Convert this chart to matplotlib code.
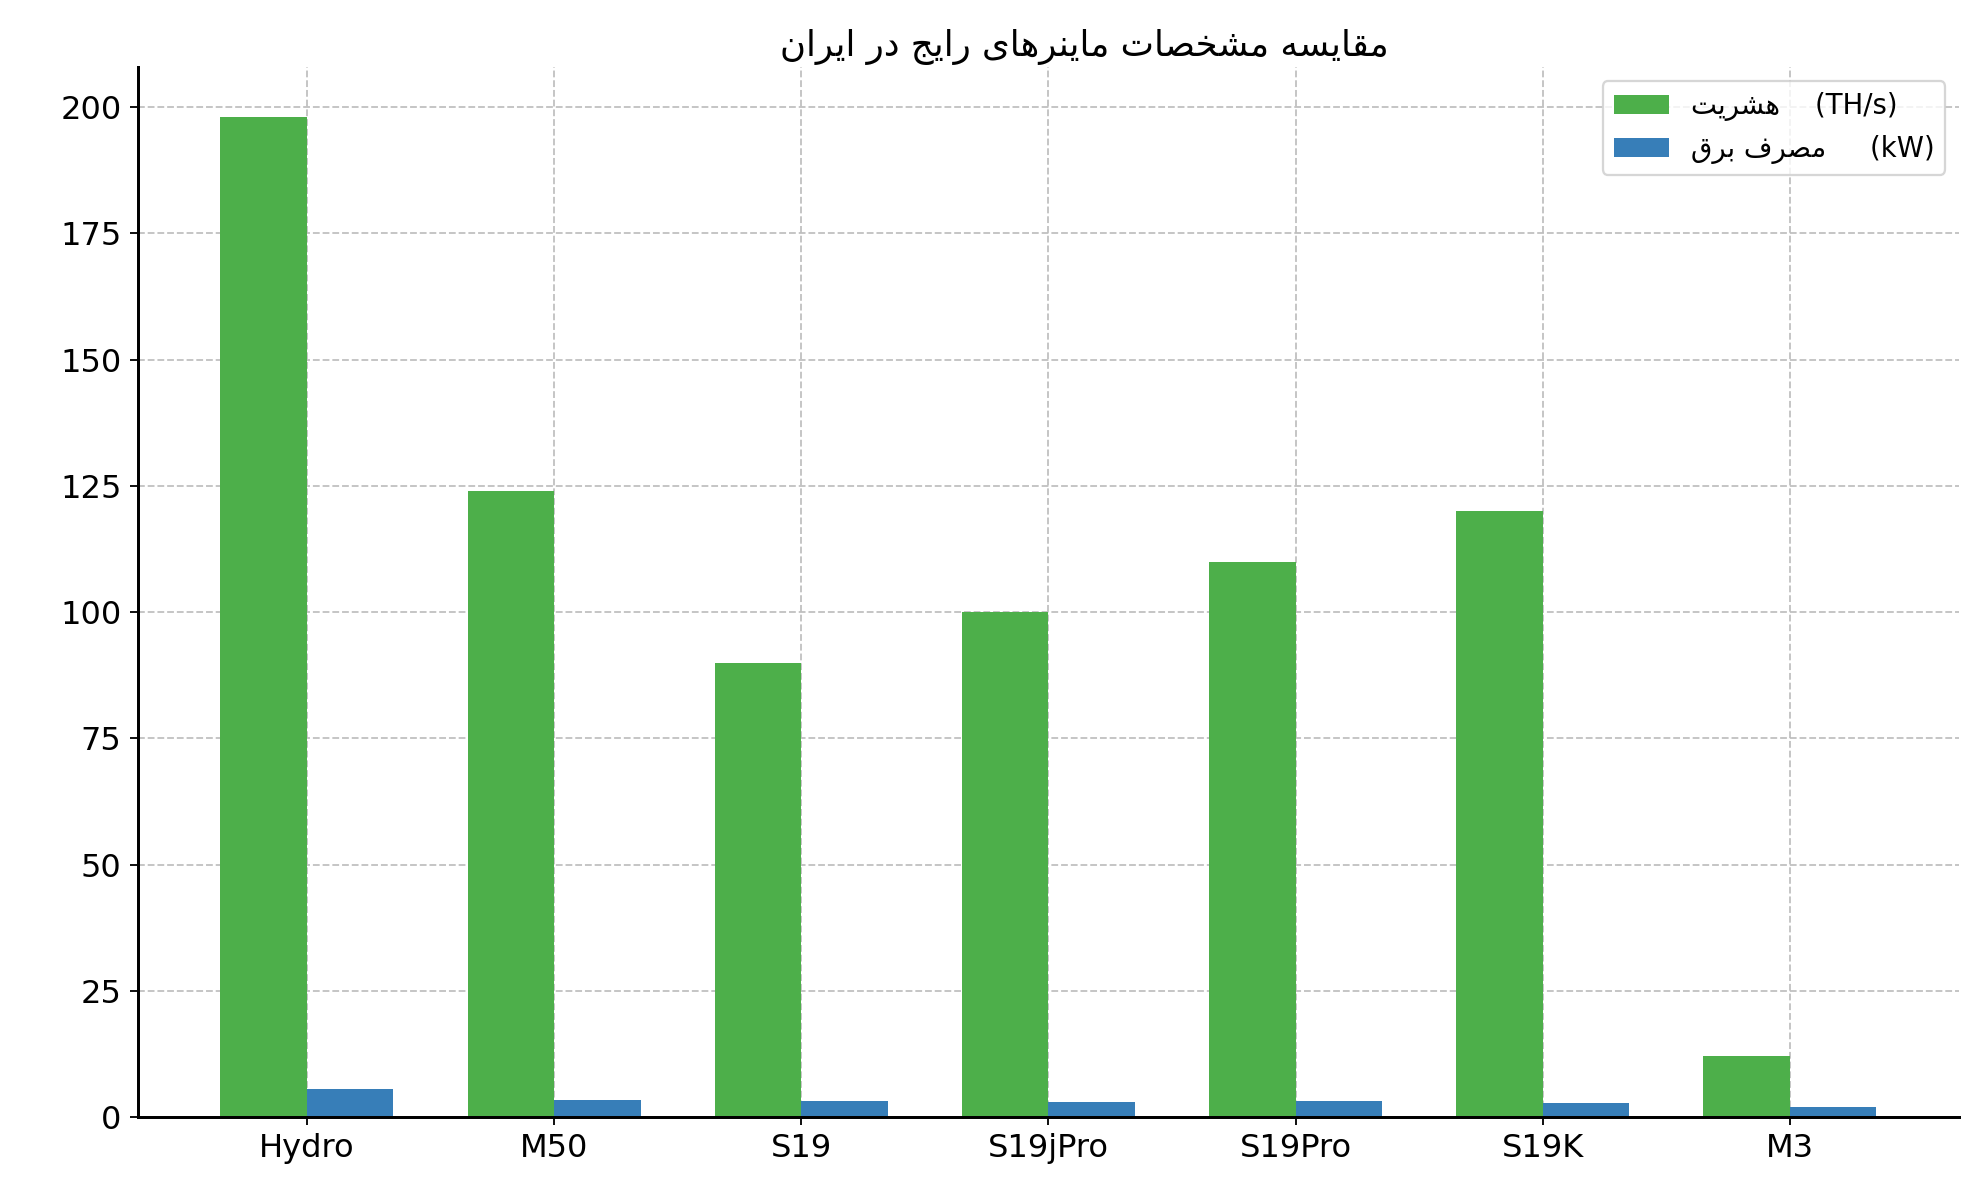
"""
Bar chart: miner specs common in Iran (hashrate vs power draw)
"""

import matplotlib.pyplot as plt
import numpy as np

models = ['Hydro', 'M50', 'S19', 'S19jPro', 'S19Pro', 'S19K', 'M3']
hashrate_ths = [198, 124, 90, 100, 110, 120, 12]
power_kw = [5.445, 3.3, 3.25, 3.05, 3.25, 2.76, 2.0]

title_fa = 'مقایسه مشخصات ماینرهای رایج در ایران'
label_hash_fa = 'هش‌ریت'
label_power_fa = 'مصرف برق'

# matplotlib has no Arabic shaping, so map letters to presentation forms
# (isolated, final, initial, medial) and lay them out right to left
FORMS = {
    'ا': (0xFE8D, 0xFE8E, None, None),
    'ب': (0xFE8F, 0xFE90, 0xFE91, 0xFE92),
    'ت': (0xFE95, 0xFE96, 0xFE97, 0xFE98),
    'ج': (0xFE9D, 0xFE9E, 0xFE9F, 0xFEA0),
    'خ': (0xFEA5, 0xFEA6, 0xFEA7, 0xFEA8),
    'د': (0xFEA9, 0xFEAA, None, None),
    'ر': (0xFEAD, 0xFEAE, None, None),
    'س': (0xFEB1, 0xFEB2, 0xFEB3, 0xFEB4),
    'ش': (0xFEB5, 0xFEB6, 0xFEB7, 0xFEB8),
    'ص': (0xFEB9, 0xFEBA, 0xFEBB, 0xFEBC),
    'ف': (0xFED1, 0xFED2, 0xFED3, 0xFED4),
    'ق': (0xFED5, 0xFED6, 0xFED7, 0xFED8),
    'م': (0xFEE1, 0xFEE2, 0xFEE3, 0xFEE4),
    'ن': (0xFEE5, 0xFEE6, 0xFEE7, 0xFEE8),
    'ه': (0xFEE9, 0xFEEA, 0xFEEB, 0xFEEC),
    'ی': (0xFBFC, 0xFBFD, 0xFBFE, 0xFBFF),
}
RIGHT_ONLY = set('ادر')


def shape(text):
    text = text.replace('\u200c', '')
    out = []
    for i, c in enumerate(text):
        if c not in FORMS:
            out.append(c)
            continue
        prev = text[i - 1] if i > 0 else None
        nxt = text[i + 1] if i + 1 < len(text) else None
        join_prev = prev in FORMS and prev not in RIGHT_ONLY
        join_next = nxt in FORMS and c not in RIGHT_ONLY
        isol, fin, ini, med = FORMS[c]
        if join_prev and join_next:
            g = med
        elif join_prev:
            g = fin
        elif join_next:
            g = ini
        else:
            g = isol
        out.append(chr(g))
    return ''.join(reversed(out))


plt.rcParams['font.family'] = ['DejaVu Sans']

fig = plt.figure(figsize=(1979 / 165, 1180 / 165), dpi=165)
ax = fig.add_axes([0.0695, 0.0534, 0.9205, 0.8896])

x = np.arange(len(models))
w = 0.35
ax.bar(x - w / 2, hashrate_ths, w, color='#4daf4a',
       label=shape(label_hash_fa) + '    (TH/s)')
ax.bar(x + w / 2, power_kw, w, color='#377eb8',
       label=shape(label_power_fa) + '     (kW)')

ax.set_xticks(x)
ax.set_xticklabels(models)
ax.tick_params(axis='both', labelsize=14)
ax.set_title(shape(title_fa), fontsize=15.5, x=0.52, pad=5)

ax.spines['top'].set_visible(False)
ax.spines['right'].set_visible(False)
ax.spines['left'].set_linewidth(1.3)
ax.spines['bottom'].set_linewidth(1.3)

ax.set_axisbelow(True)
ax.grid(True, linestyle='--', color='#bbbbbb', linewidth=0.8, alpha=0.9)
ax.legend(loc='upper right', fontsize=12)

fig.savefig('out.png', dpi=165)
